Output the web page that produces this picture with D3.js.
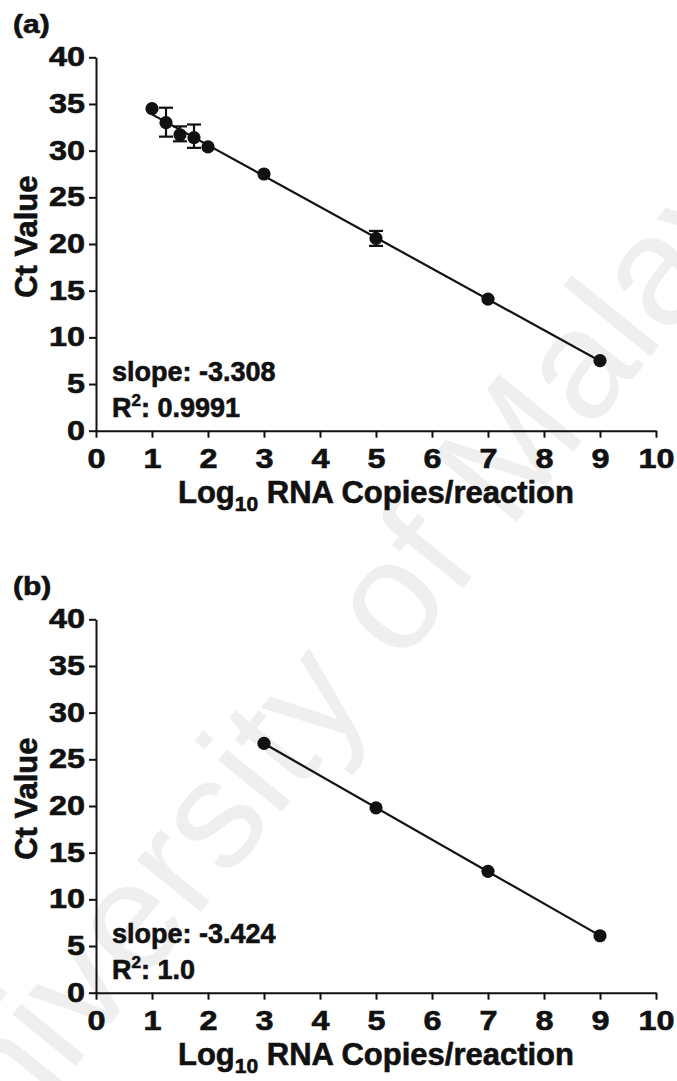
<!DOCTYPE html>
<html>
<head>
<meta charset="utf-8">
<script src="https://cdn.jsdelivr.net/npm/d3@7"></script>
<style>
  html, body { margin: 0; padding: 0; background: #fff; }
  svg { display: block; }
  text { font-family: "Liberation Sans", Arial, sans-serif; }
  .heavy { stroke: #111; stroke-width: 0.6px; paint-order: stroke; }
</style>
</head>
<body>
<svg id="chart" width="677" height="1081"></svg>
<script>
// ---- Data ----
const xTicks = [0, 1, 2, 3, 4, 5, 6, 7, 8, 9, 10];
const yTicks = [0, 5, 10, 15, 20, 25, 30, 35, 40];

// Panel (a)
const aLogCopies = [1, 1.25, 1.5, 1.75, 2, 3, 5, 7, 9];
const aCt        = [34.5, 33.0, 31.7, 31.4, 30.4, 27.5, 20.6, 14.1, 7.5];
const aErrLow    = [34.5, 31.5, 31.0, 30.3, 30.4, 27.5, 19.8, 14.1, 7.5];
const aErrHigh   = [34.5, 34.6, 32.6, 32.8, 30.4, 27.5, 21.4, 14.1, 7.5];
const aSlopeText = "slope: -3.308";
const aR2Text    = "0.9991";

// Panel (b)
const bLogCopies = [3, 5, 7, 9];
const bCt        = [26.7, 19.8, 13.0, 6.1];
const bSlopeText = "slope: -3.424";
const bR2Text    = "1.0";

const svg = d3.select("#chart");
const WIDE = 1.2; // horizontal stretch of tick/panel labels

// ---- Watermark ----
svg.append("text")
  .attr("transform", "translate(352,660) rotate(-51)")
  .attr("text-anchor", "middle")
  .attr("dominant-baseline", "middle")
  .style("font-family", "'Liberation Sans', Arial, sans-serif")
  .style("font-size", "155px")
  .style("fill", "#efefef")
  .text("University of Malaya");

function fit(xs, ys) {
  const mx = d3.mean(xs), my = d3.mean(ys);
  let sxy = 0, sxx = 0;
  xs.forEach((x, i) => { sxy += (x - mx) * (ys[i] - my); sxx += (x - mx) * (x - mx); });
  const m = sxy / sxx;
  return { m, b: my - m * mx };
}

function panel(cfg) {
  const x = d3.scaleLinear().domain([0, 10]).range([96, 656]);
  const y = d3.scaleLinear().domain([0, 40]).range([cfg.y0, cfg.y0 - 373.4]);
  const g = svg.append("g");

  // panel label
  g.append("text").attr("class", "heavy")
    .attr("transform", `translate(13,${cfg.y0 - 398}) scale(${WIDE},1)`)
    .style("font-size", "25px").style("font-weight", "bold").attr("fill", "#111")
    .text(cfg.label);

  // axes
  const yAxis = g.append("g").attr("transform", "translate(96,0)")
    .call(d3.axisLeft(y).tickValues(yTicks).tickSize(7).tickSizeOuter(0).tickPadding(4));
  const xAxis = g.append("g").attr("transform", `translate(0,${cfg.y0})`)
    .call(d3.axisBottom(x).tickValues(xTicks).tickSize(7).tickSizeOuter(0).tickPadding(11));
  [yAxis, xAxis].forEach(a => {
    a.select(".domain").attr("stroke", "#111").attr("stroke-width", 2);
    a.selectAll(".tick line").attr("stroke", "#111").attr("stroke-width", 2);
    a.selectAll(".tick text").attr("fill", "#111").attr("class", "heavy")
      .style("font-family", "'Liberation Sans', Arial, sans-serif")
      .style("font-size", "27px").style("font-weight", "bold");
  });
  yAxis.selectAll(".tick text")
    .attr("x", -11 / WIDE)
    .attr("transform", `scale(${WIDE},1)`);
  xAxis.selectAll(".tick text")
    .attr("transform", `scale(${WIDE},1)`);

  // axis titles
  g.append("text").attr("class", "heavy")
    .attr("transform", `translate(37,${cfg.y0 - 194}) rotate(-90)`)
    .attr("text-anchor", "middle")
    .style("font-size", "31px").style("font-weight", "bold").attr("fill", "#111")
    .text("Ct Value");
  const xt = g.append("text").attr("class", "heavy").attr("x", 376).attr("y", cfg.y0 + 72)
    .attr("text-anchor", "middle")
    .style("font-size", "31px").style("font-weight", "bold").attr("fill", "#111");
  xt.append("tspan").text("Log");
  xt.append("tspan").attr("dy", 8).style("font-size", "21px").text("10");
  xt.append("tspan").attr("dy", -8).text(" RNA Copies/reaction");

  // regression line
  const f = fit(cfg.xs, cfg.ys);
  const x1 = d3.min(cfg.xs), x2 = d3.max(cfg.xs);
  g.append("line")
    .attr("x1", x(x1)).attr("y1", y(f.m * x1 + f.b))
    .attr("x2", x(x2)).attr("y2", y(f.m * x2 + f.b))
    .attr("stroke", "#111").attr("stroke-width", 2.2);

  // error bars
  if (cfg.lo) {
    cfg.xs.forEach((xv, i) => {
      if (cfg.hi[i] - cfg.lo[i] <= 0) return;
      const eg = g.append("g").attr("stroke", "#111").attr("stroke-width", 2.2);
      eg.append("line").attr("x1", x(xv)).attr("x2", x(xv)).attr("y1", y(cfg.lo[i])).attr("y2", y(cfg.hi[i]));
      [cfg.lo[i], cfg.hi[i]].forEach(v => {
        eg.append("line").attr("x1", x(xv) - 7).attr("x2", x(xv) + 7).attr("y1", y(v)).attr("y2", y(v));
      });
    });
  }

  // points
  g.selectAll("circle.pt").data(cfg.xs).enter().append("circle")
    .attr("class", "pt")
    .attr("cx", d => x(d)).attr("cy", (d, i) => y(cfg.ys[i]))
    .attr("r", 6.6).attr("fill", "#111");

  // annotations
  g.append("text").attr("class", "heavy").attr("x", 112).attr("y", cfg.y0 - 50)
    .style("font-size", "27px").style("font-weight", "bold").attr("fill", "#111")
    .text(cfg.slope);
  const r2 = g.append("text").attr("class", "heavy").attr("x", 112).attr("y", cfg.y0 - 14)
    .style("font-size", "27px").style("font-weight", "bold").attr("fill", "#111");
  r2.append("tspan").text("R");
  r2.append("tspan").attr("dy", -11).style("font-size", "17px").text("2");
  r2.append("tspan").attr("dy", 11).text(": " + cfg.r2);
}

panel({ y0: 430.7, label: "(a)", xs: aLogCopies, ys: aCt, lo: aErrLow, hi: aErrHigh, slope: aSlopeText, r2: aR2Text });
panel({ y0: 992.7, label: "(b)", xs: bLogCopies, ys: bCt, slope: bSlopeText, r2: bR2Text });
</script>
</body>
</html>
